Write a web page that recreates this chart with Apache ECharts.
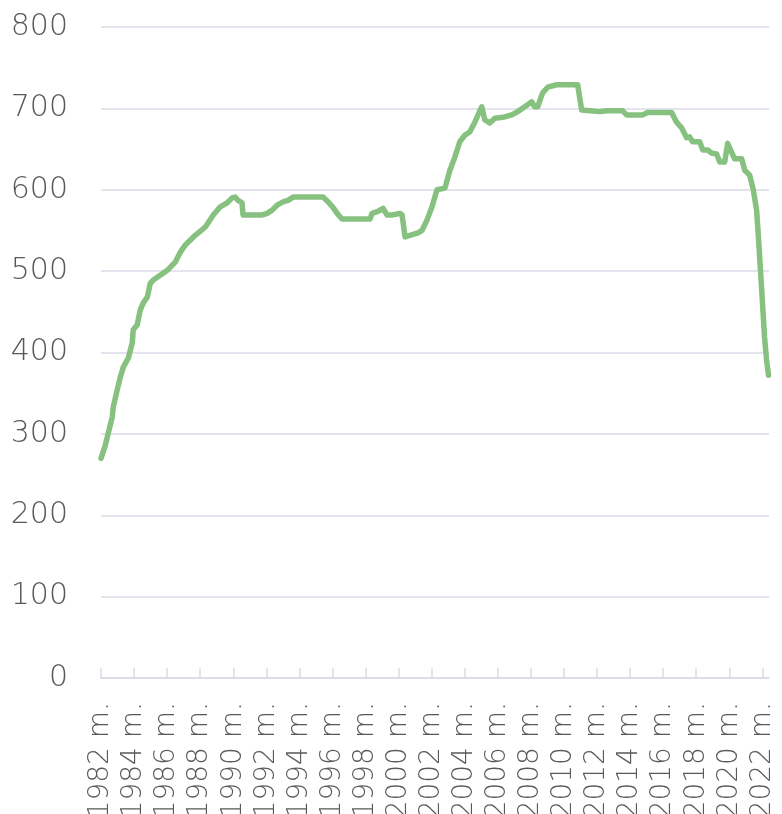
<!DOCTYPE html>
<html>
<head>
<meta charset="utf-8">
<script src="https://cdn.jsdelivr.net/npm/echarts@6/dist/echarts.min.js"></script>
<style>
html, body { margin: 0; padding: 0; background: #fff; }
#chart { width: 782px; height: 814px; }
</style>
</head>
<body>
<div id="chart"></div>
<script>
// x positions in fractional years
var years = [
  1982.0, 1982.26, 1982.44, 1982.68, 1982.74, 1982.98, 1983.17, 1983.35, 1983.65, 1983.89,
  1983.95, 1984.19, 1984.37, 1984.56, 1984.80, 1984.98, 1985.16, 1985.58, 1986.01, 1986.49,
  1986.79, 1987.09, 1987.39, 1987.70, 1988.30, 1988.79, 1989.21, 1989.63, 1989.93, 1990.11,
  1990.29, 1990.53, 1990.59, 1991.75, 1992.05, 1992.35, 1992.65, 1993.01, 1993.31, 1993.62,
  1995.43, 1995.74, 1996.04, 1996.28, 1996.58, 1998.27, 1998.39, 1998.70, 1999.06, 1999.30,
  1999.60, 2000.08, 2000.21, 2000.39, 2001.17, 2001.41, 2001.72, 2002.02, 2002.32, 2002.80,
  2003.10, 2003.40, 2003.70, 2004.00, 2004.30, 2004.61, 2005.03, 2005.21, 2005.51, 2005.82,
  2006.30, 2006.84, 2007.20, 2007.63, 2008.05, 2008.23, 2008.41, 2008.71, 2009.02, 2009.56,
  2010.83, 2011.07, 2012.16, 2012.59, 2013.55, 2013.79, 2014.76, 2015.06, 2016.51, 2016.81,
  2017.12, 2017.42, 2017.60, 2017.78, 2018.21, 2018.39, 2018.69, 2018.93, 2019.23, 2019.42,
  2019.72, 2019.90, 2020.14, 2020.32, 2020.75, 2020.93, 2021.23, 2021.45, 2021.65, 2021.75,
  2021.95, 2022.13, 2022.25, 2022.37
];
var values = [
  270, 286, 301, 321, 333, 354, 370, 382, 393, 412,
  428, 434, 452, 461, 468, 485, 489, 495, 501, 511,
  523, 532, 538, 544, 554, 569, 579, 584, 590, 591,
  587, 584, 569, 569, 571, 575, 581, 585, 587, 591,
  591, 585, 578, 571, 564, 564, 571, 573, 577, 569,
  569, 571, 569, 542, 547, 550, 563, 579, 600, 602,
  624, 640, 659, 667, 671, 683, 702, 686, 682, 688,
  689, 692, 696, 702, 708, 702, 702, 719, 726, 729,
  729, 698, 696, 697, 697, 692, 692, 695, 695, 683,
  676, 664, 665, 659, 659, 649, 649, 645, 644, 634,
  634, 657, 646, 638, 638, 624, 618, 600, 575, 545,
  480, 419, 391, 372
];
var tickYears = [1982, 1984, 1986, 1988, 1990, 1992, 1994, 1996, 1998, 2000, 2002,
  2004, 2006, 2008, 2010, 2012, 2014, 2016, 2018, 2020, 2022];
var yTicks = [0, 100, 200, 300, 400, 500, 600, 700, 800];

var chart = echarts.init(document.getElementById('chart'));

var txt = {
  color: '#595959',
  fontFamily: 'DejaVu Sans',
  fontWeight: 200,
  fontSize: 30
};
var gridColor = '#dcdae8';

var option = {
  animation: false,
  grid: { left: 101, right: 13, top: 27, bottom: 136, outerBoundsMode: 'none', containLabel: false },
  xAxis: {
    type: 'value',
    min: 1982,
    max: 2022.4,
    interval: 2,
    axisLine: { show: true, lineStyle: { color: gridColor, width: 1.5 } },
    axisTick: { show: true, inside: true, length: 10, customValues: tickYears,
      lineStyle: { color: gridColor, width: 1.5 } },
    axisLabel: Object.assign({}, txt, {
      fontSize: 28,
      rotate: 90,
      margin: 24,
      customValues: tickYears,
      formatter: function (v) { return v + ' m.'; }
    }),
    splitLine: { show: false }
  },
  yAxis: {
    type: 'value',
    min: yTicks[0],
    max: yTicks[yTicks.length - 1],
    interval: 100,
    axisLine: { show: false },
    axisTick: { show: false },
    axisLabel: Object.assign({}, txt, { margin: 33 }),
    splitLine: { lineStyle: { color: gridColor, width: 1.5 } }
  },
  series: [{
    type: 'line',
    data: years.map(function (y, i) { return [y, values[i]]; }),
    showSymbol: false,
    symbol: 'none',
    lineStyle: { color: '#86c17f', width: 5.5, join: 'round', cap: 'round' },
    z: 3
  }]
};
chart.setOption(option);
</script>
</body>
</html>
